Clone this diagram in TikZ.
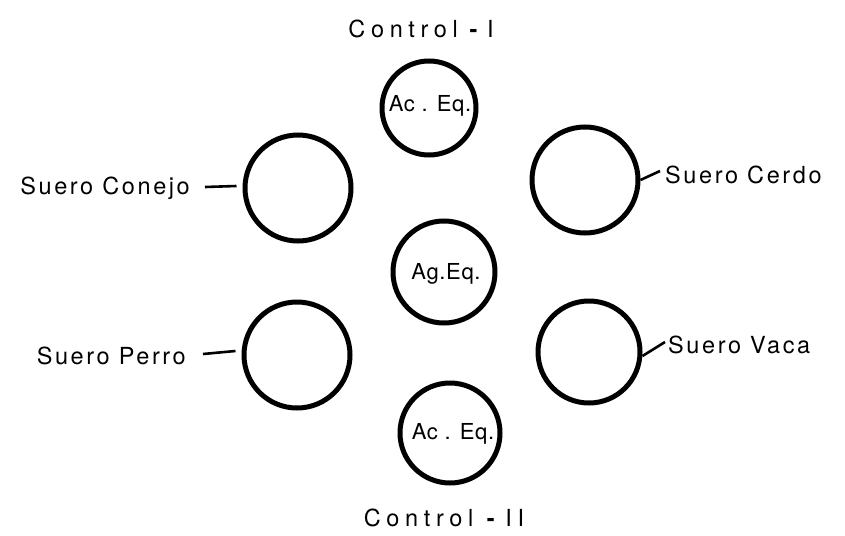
\documentclass[tikz,border=0pt]{standalone}
\usepackage{fontspec}
\setmainfont{TeX Gyre Heros}[LetterSpace=11]
\begin{document}
\begin{tikzpicture}[x=1pt,y=-1pt,
  well/.style={circle,draw=black,line width=5pt,inner sep=0pt},
  lab/.style={font=\fontsize{23.5}{26}\selectfont,inner sep=0pt},
  ctl/.style={font=\fontsize{23.5}{26}\selectfont\addfontfeature{LetterSpace=24},inner sep=0pt},
  inlab/.style={font=\fontsize{22}{24}\selectfont\addfontfeature{LetterSpace=3},inner sep=0pt},
  tick/.style={line width=2.6pt}]
\useasboundingbox (0,0) rectangle (845,535);
% wells
\node[well,minimum size=94pt] (top) at (429,108) {};
\node[well,minimum size=106pt] (lu) at (298,188) {};
\node[well,minimum size=106pt] (ru) at (585,180) {};
\node[well,minimum size=102pt] (mid) at (444,272) {};
\node[well,minimum size=106pt] (ll) at (297,355) {};
\node[well,minimum size=102pt] (rl) at (589,352) {};
\node[well,minimum size=100pt] (bot) at (450,433) {};
% inner labels
\node[inlab] (ttop) at (430,106) {Ac . Eq.};
\node[inlab] (tmid) at (446,274) {Ag.Eq.};
\node[inlab] (tbot) at (453,434) {Ac . Eq.};
% outer labels
\node[ctl] (c1) at (421,29) {Control\hspace{6pt}\textbf{-}\hspace{4pt}I};
\node[ctl] (c2) at (444,518) {Control\hspace{8pt}\textbf{-}\hspace{5pt}II};
\node[lab,anchor=east] (sco) at (190,188) {Suero Conejo};
\node[lab,anchor=west] (sce) at (665,175) {Suero Cerdo};
\node[lab,anchor=east] (spe) at (186,356) {Suero Perro};
\node[lab,anchor=west] (sva) at (668,345) {Suero Vaca};
% ticks
\coordinate (a1) at ([xshift=-6pt]lu.west);
\coordinate (a2) at ([xshift=-6pt]ll.west);
\draw[tick] ([xshift=15pt,yshift=1pt]sco.east) -- ([yshift=2pt]a1);
\draw[tick] ([xshift=-5pt,yshift=4pt]sce.west) -- ([yshift=0pt]ru.east);
\draw[tick] ([xshift=17pt,yshift=2pt]spe.east) -- ([yshift=4pt]a2);
\draw[tick] ([xshift=-3pt,yshift=3pt]sva.west) -- ([yshift=-4pt]rl.east);
\end{tikzpicture}
\end{document}
